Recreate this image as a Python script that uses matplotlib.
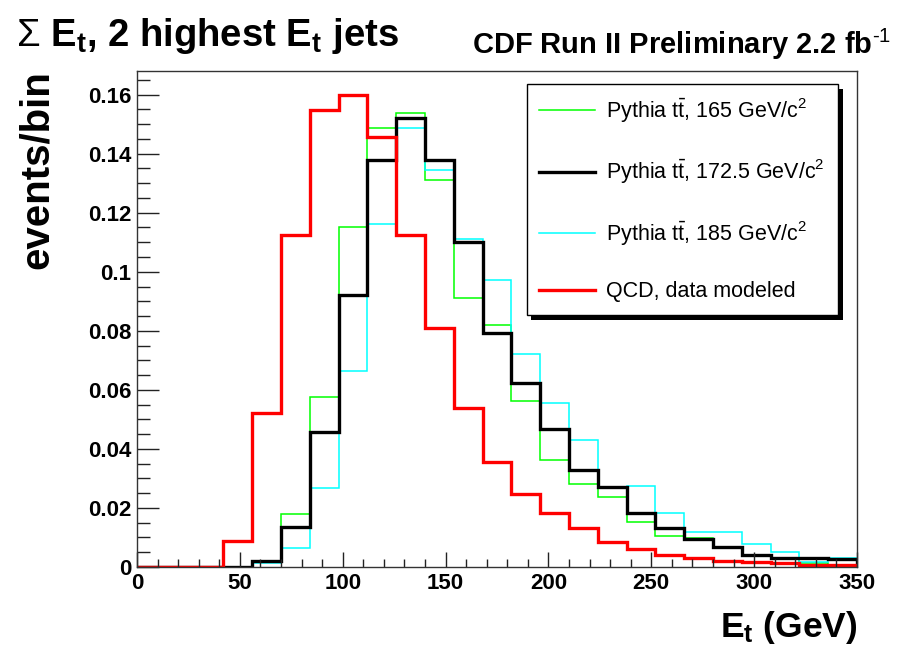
import numpy as np
import matplotlib
matplotlib.use("Agg")
import matplotlib.pyplot as plt
from matplotlib import patheffects
from matplotlib.ticker import MultipleLocator, FuncFormatter

plt.rcParams['font.family'] = ['Liberation Sans', 'DejaVu Sans']
plt.rcParams['mathtext.fontset'] = 'custom'
plt.rcParams['mathtext.rm'] = 'Liberation Sans'
plt.rcParams['mathtext.it'] = 'Liberation Sans:italic'
plt.rcParams['mathtext.bf'] = 'Liberation Sans:bold'

# bin edges, 14 GeV bins from 0 to 350
edges = np.arange(0, 351, 14)

# normalised sum Et of the 2 leading jets
pythia_165 = [0, 0, 0, 0, 0.0020, 0.0179, 0.0577, 0.1151, 0.1486, 0.1539, 0.1311, 0.0912, 0.0818,
              0.0563, 0.0364, 0.0281, 0.0238, 0.0153, 0.0105, 0.0097, 0.0063, 0.0041, 0.0026, 0.0012, 0.0006]
pythia_1725 = [0, 0, 0, 0, 0.0022, 0.0134, 0.0457, 0.0920, 0.1377, 0.1520, 0.1377, 0.1100, 0.0794,
               0.0624, 0.0467, 0.0328, 0.0272, 0.0184, 0.0133, 0.0094, 0.0069, 0.0041, 0.0032, 0.0029, 0.0026]
pythia_185 = [0, 0, 0, 0, 0.0012, 0.0066, 0.0268, 0.0663, 0.1161, 0.1486, 0.1343, 0.1112, 0.0971,
              0.0721, 0.0556, 0.0429, 0.0272, 0.0274, 0.0184, 0.0119, 0.0119, 0.0077, 0.0052, 0.0018, 0.0029]
qcd = [0, 0, 0, 0.0089, 0.0522, 0.1125, 0.1548, 0.1600, 0.1458, 0.1125, 0.0810, 0.0539, 0.0356,
       0.0246, 0.0182, 0.0133, 0.0086, 0.0060, 0.0041, 0.0032, 0.0021, 0.0016, 0.0012, 0.0006, 0.0006]

labels = [r'Pythia $\mathrm{t\bar{t}}$, 165 GeV/c$^2$',
          r'Pythia $\mathrm{t\bar{t}}$, 172.5 GeV/c$^2$',
          r'Pythia $\mathrm{t\bar{t}}$, 185 GeV/c$^2$',
          'QCD, data modeled']

fig = plt.figure(figsize=(9.03, 6.47), dpi=100)
ax = fig.add_axes([137/903, 80/647, 720/903, 496/647])

h165 = ax.stairs(pythia_165, edges, color='#00ff00', lw=1.1)
h185 = ax.stairs(pythia_185, edges, color='#00ffff', lw=1.1)
h172 = ax.stairs(pythia_1725, edges, color='black', lw=2.4)
hqcd = ax.stairs(qcd, edges, color='#ff0000', lw=2.4)

ax.set_xlim(0, 350)
ax.set_ylim(0, 0.168)

ax.xaxis.set_major_locator(MultipleLocator(50))
ax.xaxis.set_minor_locator(MultipleLocator(10))
ax.yaxis.set_major_locator(MultipleLocator(0.02))
ax.yaxis.set_minor_locator(MultipleLocator(0.005))
ax.yaxis.set_major_formatter(FuncFormatter(lambda v, p: '%g' % round(v, 3)))
ax.tick_params(which='both', direction='in', top=False, right=False, width=1, color='#222222')
ax.tick_params(which='major', labelsize=16, pad=4)
ax.tick_params(axis='y', which='major', length=16)
ax.tick_params(axis='y', which='minor', length=9)
ax.tick_params(axis='x', which='major', length=11)
ax.tick_params(axis='x', which='minor', length=6)
for lab in ax.get_xticklabels() + ax.get_yticklabels():
    lab.set_fontweight('bold')
for sp in ax.spines.values():
    sp.set_linewidth(1.0)
    sp.set_color('#333333')

leg = ax.legend([h165, h172, h185, hqcd], labels, loc='upper left',
                bbox_to_anchor=(0.541, 0.974), borderaxespad=0, fontsize=15.5,
                frameon=True, fancybox=False, edgecolor='black', framealpha=1,
                handlelength=2.6, handletextpad=0.5, borderpad=0.6, labelspacing=1.55)
leg.get_frame().set_linewidth(1.0)
leg.get_frame().set_path_effects([
    patheffects.SimplePatchShadow(offset=(3.5, -3.5), shadow_rgbFace='black', alpha=1),
    patheffects.Normal()])

fig.text(16/903, 1 - 45.7/647, r'$\Sigma$ $\mathbf{E_t}$, 2 highest $\mathbf{E_t}$ jets',
         fontsize=27.5, fontweight='bold', va='baseline', ha='left')
fig.text(472/903, 1 - 54/647, r'CDF Run II Preliminary 2.2 fb$^{\mathbf{\text{-1}}}$',
         fontsize=21, fontweight='bold', va='baseline', ha='left')
fig.text(858/903, 1 - 637/647, r'$\mathbf{E_t}$ (GeV)', fontsize=25.5, fontweight='bold',
         va='baseline', ha='right')
fig.text(37/903, 1 - 70/647, 'events/bin', fontsize=29, fontweight='bold',
         rotation=90, va='top', ha='center')

fig.savefig('out.png', dpi=100)
